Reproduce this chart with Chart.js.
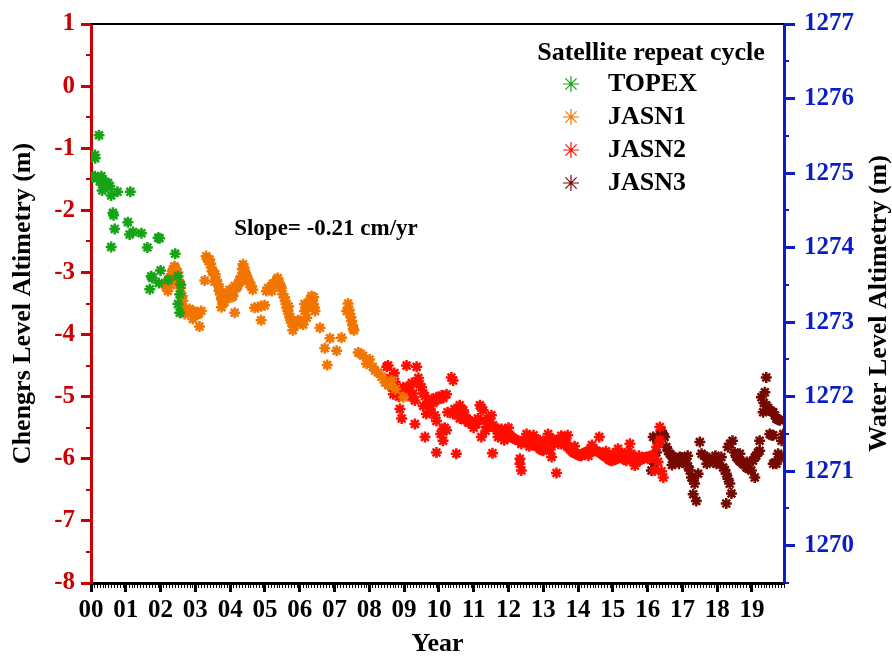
<!DOCTYPE html>
<html>
<head>
<meta charset="utf-8">
<script src="https://cdn.jsdelivr.net/npm/chart.js@4.4.1/dist/chart.umd.min.js"></script>
<style>
  html, body { margin: 0; padding: 0; background: #fff; }
  canvas { display: block; }
</style>
</head>
<body>
<canvas id="myChart" width="892" height="657"></canvas>
<script>
// years after 2000, level in m (left axis)
var topexYear = [0.23, 0.11, 0.12, 0.05, 0.11, 0.20, 0.30, 0.25, 0.34, 0.42, 0.49, 0.54, 0.32, 0.47, 0.58, 0.76, 1.13, 0.63, 0.65, 0.68,
  1.06, 1.11, 1.21, 1.45, 0.58, 1.62, 1.93, 1.97, 2.42, 1.73, 1.76, 2.00, 1.69, 1.95, 2.50, 2.55, 2.50, 2.55, 2.58, 2.22];
var topexLevel = [-0.79, -1.11, -1.16, -1.47, -1.45, -1.47, -1.45, -1.53, -1.59, -1.55, -1.56, -1.61, -1.68, -1.62, -1.76, -1.70, -1.70, -2.04, -2.08, -2.30,
  -2.19, -2.39, -2.35, -2.37, -2.59, -2.60, -2.44, -2.45, -2.70, -3.06, -3.09, -2.97, -3.27, -3.17, -3.06, -3.35, -3.51, -3.65, -3.20, -3.12];

var jasn1Year = [2.12, 2.16, 2.18, 2.21, 2.21, 2.26, 2.31, 2.34, 2.36, 2.40, 2.42, 2.45, 2.48, 2.52, 2.55, 2.58, 2.59, 2.62, 2.64, 2.59,
  2.66, 2.69, 2.76, 2.83, 2.88, 2.93, 2.99, 3.05, 3.10, 3.17, 2.93, 3.12, 3.27, 3.31, 3.34, 3.38, 3.41, 3.44, 3.46, 3.48,
  3.52, 3.57, 3.61, 3.65, 3.70, 3.72, 3.75, 3.79, 3.84, 3.75, 3.88, 3.93, 3.99, 4.04, 4.08, 4.13, 4.13, 4.18, 4.22, 4.27,
  4.32, 4.35, 4.37, 4.40, 4.42, 4.45, 4.47, 4.52, 4.56, 4.61, 4.65, 4.70, 4.80, 4.89, 4.99, 4.89, 5.04, 5.09, 5.13, 5.18,
  5.23, 5.28, 5.33, 5.37, 5.42, 5.47, 5.51, 5.56, 5.58, 5.61, 5.63, 5.66, 5.69, 5.71, 5.74, 5.76, 5.80, 5.85, 5.90, 5.95,
  6.00, 6.05, 6.10, 6.14, 6.14, 6.19, 6.20, 6.24, 6.29, 6.32, 6.34, 6.37, 6.39, 6.42, 6.44, 6.58, 6.72, 6.79, 6.87, 7.06,
  7.20, 7.35, 7.39, 7.42, 7.44, 7.47, 7.49, 7.52, 7.54, 7.56, 7.68, 7.75, 7.82, 7.92, 8.01, 8.10, 8.16, 8.25, 8.35, 8.45,
  8.55, 8.64, 8.75, 8.98, 2.30, 2.50, 3.55, 3.68, 3.98, 4.10, 4.28, 4.50, 5.20, 5.45, 5.68, 6.27, 6.40];
var jasn1Level = [-3.19, -3.22, -3.25, -3.30, -3.14, -3.10, -3.03, -2.98, -2.95, -2.90, -2.93, -3.03, -3.06, -3.12, -3.18, -3.25, -3.41, -3.38, -3.46, -3.53,
  -3.58, -3.67, -3.62, -3.59, -3.63, -3.62, -3.64, -3.68, -3.66, -3.62, -3.75, -3.87, -3.13, -2.74, -2.78, -2.82, -2.79, -2.86, -2.92, -2.98,
  -3.00, -3.03, -3.12, -3.19, -3.27, -3.35, -3.43, -3.45, -3.48, -3.56, -3.38, -3.34, -3.35, -3.40, -3.38, -3.65, -3.22, -3.25, -3.22, -3.12,
  -3.06, -2.95, -2.87, -2.92, -2.99, -3.02, -3.06, -3.12, -3.19, -3.22, -3.28, -3.57, -3.56, -3.54, -3.53, -3.77, -3.30, -3.25, -3.28, -3.22,
  -3.18, -3.19, -3.12, -3.09, -3.17, -3.25, -3.35, -3.40, -3.46, -3.51, -3.57, -3.62, -3.67, -3.72, -3.76, -3.81, -3.93, -3.86, -3.80, -3.77,
  -3.78, -3.81, -3.84, -3.62, -3.51, -3.54, -3.73, -3.57, -3.47, -3.42, -3.38, -3.45, -3.51, -3.57, -3.62, -3.89, -4.22, -4.49, -4.06, -4.26,
  -4.05, -3.62, -3.50, -3.60, -3.67, -3.72, -3.78, -3.85, -3.91, -3.93, -4.29, -4.31, -4.34, -4.47, -4.40, -4.52, -4.58, -4.61, -4.68, -4.77,
  -4.82, -4.74, -4.88, -5.01, -3.20, -3.00, -3.15, -3.30, -3.28, -3.30, -3.15, -3.10, -3.30, -3.22, -3.55, -3.52, -3.40];

var jasn2Year = [8.54, 8.50, 8.59, 8.64, 8.69, 8.74, 8.72, 8.80, 8.85, 8.88, 8.93, 8.98, 9.05, 9.07, 9.12, 9.17, 9.22, 9.26, 9.31, 9.36,
  9.41, 9.45, 9.50, 9.31, 9.55, 9.60, 9.64, 9.60, 9.69, 9.74, 9.79, 9.84, 9.89, 9.93, 9.98, 10.03, 10.08, 10.13, 10.22, 9.93,
  9.88, 10.12, 10.17, 10.22, 10.12, 10.05, 9.93, 10.36, 10.41, 10.41, 10.45, 10.50, 10.50, 10.55, 10.60, 10.65, 10.70, 10.74, 10.80, 10.85,
  10.89, 10.94, 10.98, 11.03, 11.08, 11.18, 11.22, 11.27, 11.32, 11.37, 11.22, 11.42, 11.46, 11.51, 11.56, 11.54, 11.61, 11.66, 11.70, 11.75,
  11.80, 11.85, 11.90, 11.95, 11.99, 12.04, 12.09, 12.14, 12.20, 12.28, 12.33, 12.37, 12.37, 12.33, 12.45, 12.52, 12.56, 12.61, 12.66, 12.71,
  12.76, 12.80, 12.85, 12.90, 12.95, 13.00, 13.05, 13.10, 13.14, 13.19, 13.24, 13.28, 13.33, 13.38, 13.43, 13.47, 13.52, 13.57, 13.62, 13.67,
  13.72, 13.76, 13.81, 13.86, 13.91, 13.96, 14.01, 14.05, 14.10, 14.15, 14.20, 14.24, 14.29, 14.34, 14.39, 14.44, 14.49, 14.53, 14.61, 14.63,
  14.67, 14.72, 14.77, 14.82, 14.87, 14.91, 14.96, 15.01, 15.06, 15.11, 15.15, 15.20, 15.25, 15.30, 15.34, 15.39, 15.44, 15.49, 15.53, 15.58,
  15.63, 15.68, 15.72, 15.78, 15.82, 15.87, 15.92, 15.97, 16.01, 16.06, 16.11, 16.16, 16.26, 16.35, 16.35, 16.45, 16.20, 16.40, 16.30,
  9.20, 9.55, 9.75, 10.25, 10.60, 10.75, 11.00, 11.12, 11.35, 11.70, 11.88, 12.00, 12.60, 12.72, 12.90, 13.20, 13.60, 13.70, 13.90, 14.30,
  14.40, 14.80, 15.00, 15.35, 15.60, 15.75];
var jasn2Level = [-4.50, -4.52, -4.70, -4.85, -4.96, -4.76, -4.62, -4.90, -5.00, -5.20, -5.35, -4.85, -4.90, -4.50, -4.85, -4.82, -4.78, -4.95, -5.06, -4.52,
  -4.70, -4.80, -4.85, -5.44, -4.95, -4.99, -5.28, -5.65, -5.12, -5.08, -5.04, -5.10, -5.06, -5.01, -5.05, -5.01, -4.98, -5.02, -4.96, -5.39,
  -5.30, -5.52, -5.50, -5.54, -5.71, -5.60, -5.90, -4.69, -4.74, -5.28, -5.20, -5.22, -5.92, -5.30, -5.14, -5.20, -5.22, -5.38, -5.35, -5.42,
  -5.41, -5.40, -5.44, -5.42, -5.44, -5.14, -5.18, -5.22, -5.38, -5.49, -5.65, -5.40, -5.35, -5.30, -5.46, -5.91, -5.50, -5.54, -5.52, -5.55,
  -5.52, -5.58, -5.59, -5.60, -5.65, -5.62, -5.65, -5.67, -5.69, -5.71, -6.08, -5.76, -6.19, -6.00, -5.70, -5.60, -5.64, -5.68, -5.72, -5.74,
  -5.76, -5.79, -5.81, -5.84, -5.86, -5.87, -5.82, -5.70, -5.60, -5.66, -5.97, -5.75, -5.70, -6.23, -5.76, -5.68, -5.63, -5.66, -5.70, -5.76,
  -5.81, -5.84, -5.87, -5.90, -5.91, -5.92, -5.94, -5.95, -5.95, -5.92, -5.90, -5.89, -5.88, -5.87, -5.87, -5.86, -5.87, -5.87, -5.65, -5.90,
  -5.92, -5.94, -5.96, -5.97, -6.00, -6.02, -6.03, -6.02, -6.01, -6.00, -5.84, -5.92, -5.95, -5.98, -6.01, -6.03, -5.90, -5.76, -5.92, -6.00,
  -6.11, -6.06, -6.03, -6.00, -6.01, -6.00, -5.98, -5.97, -6.00, -5.96, -5.95, -5.95, -5.81, -5.49, -5.70, -6.30, -6.19, -6.20, -6.05,
  -5.00, -5.15, -5.20, -5.25, -5.35, -5.30, -5.50, -5.35, -5.55, -5.65, -5.70, -5.50, -5.80, -5.62, -5.70, -5.85, -5.78, -5.62, -5.80, -5.95,
  -5.78, -5.88, -5.92, -5.92, -6.02, -5.95];

var jasn3Year = [16.11, 16.16, 16.20, 16.25, 16.30, 16.35, 16.40, 16.45, 16.49, 16.54, 16.59, 16.64, 16.69, 16.73, 16.78, 16.83, 16.88, 16.92, 16.97, 17.02,
  17.06, 17.11, 17.16, 17.21, 17.26, 17.31, 17.35, 17.31, 17.40, 17.45, 17.50, 17.55, 17.62, 17.69, 17.76, 17.83, 17.90, 17.98, 18.05, 18.12,
  18.17, 18.22, 18.26, 18.26, 18.31, 18.36, 18.41, 18.31, 18.37, 18.44, 18.50, 18.55, 18.60, 18.64, 18.69, 18.74, 18.79, 18.84, 18.90, 18.98,
  19.08, 19.03, 19.08, 19.12, 19.17, 19.22, 19.22, 19.27, 19.32, 19.34, 19.37, 19.41, 19.41, 19.46, 19.51, 19.56, 19.61, 19.66, 19.70, 19.75,
  19.80, 19.51, 19.56, 19.61, 19.61, 19.66, 19.70, 19.75, 19.85, 19.85, 19.90, 16.70, 16.90, 17.15, 17.70, 17.95, 18.65, 18.85];
var jasn3Level = [-6.19, -5.65, -6.08, -5.90, -5.75, -5.60, -5.55, -5.62, -5.65, -5.81, -5.88, -5.92, -5.95, -5.97, -6.00, -6.03, -6.00, -5.97, -5.98, -6.00,
  -6.04, -6.08, -6.12, -6.19, -6.30, -6.35, -6.40, -6.57, -6.68, -6.24, -5.73, -5.92, -5.95, -5.97, -6.00, -6.03, -6.05, -6.08, -6.02, -5.97,
  -6.14, -6.18, -6.24, -6.72, -6.32, -6.40, -6.56, -5.81, -5.76, -5.71, -5.90, -5.97, -6.00, -6.03, -6.05, -6.08, -6.10, -6.14, -6.16, -6.19,
  -6.30, -6.03, -5.98, -5.95, -5.90, -5.87, -5.71, -5.01, -5.25, -5.10, -4.93, -4.69, -5.14, -5.18, -5.22, -5.24, -5.25, -5.30, -5.35, -5.37,
  -5.38, -5.60, -5.62, -5.62, -6.08, -6.06, -6.08, -5.92, -5.97, -5.71, -5.60, -6.10, -6.08, -5.95, -6.08, -5.95, -5.92, -6.05];

var seriesNames = ["TOPEX", "JASN1", "JASN2", "JASN3"];
var seriesColors = ["#16a316", "#f27500", "#ff0d00", "#750800"];
var slopeText = "Slope= -0.21 cm/yr";

function pts(xs, ys) {
  return xs.map(function (x, i) { return { x: x, y: ys[i] }; });
}

var serif = "'Liberation Serif', 'Times New Roman', serif";
var red = "#cc0000";
var blue = "#0a1ec8";

var extras = {
  id: 'extras',
  afterDraw: function (chart) {
    var c = chart.ctx, a = chart.chartArea;
    var sx = chart.scales.x, sy = chart.scales.y, sy2 = chart.scales.y2;
    c.save();
    // top frame line
    c.strokeStyle = "#000"; c.lineWidth = 2;
    c.beginPath(); c.moveTo(a.left, a.top); c.lineTo(a.right, a.top); c.stroke();
    // minor ticks
    c.lineWidth = 2; c.strokeStyle = red;
    for (var v = -7.5; v < 1; v += 1) {
      var py = Math.round(sy.getPixelForValue(v));
      c.beginPath(); c.moveTo(a.left - 5, py); c.lineTo(a.left, py); c.stroke();
    }
    c.strokeStyle = blue;
    for (var w = 1269.5; w < 1277; w += 1) {
      var py2 = Math.round(sy2.getPixelForValue(w));
      c.beginPath(); c.moveTo(a.right, py2); c.lineTo(a.right + 5, py2); c.stroke();
    }
    c.strokeStyle = "#000"; c.lineWidth = 1;
    for (var yr = 0; yr < 20; yr++) {
      for (var m = 1; m < 12; m++) {
        var t = yr + m / 12;
        if (t > sx.max) break;
        var px = Math.round(sx.getPixelForValue(t)) + 0.5;
        c.beginPath(); c.moveTo(px, a.bottom); c.lineTo(px, a.bottom + 5); c.stroke();
      }
    }
    // right axis title
    c.fillStyle = "#000";
    c.font = "bold 26px " + serif;
    c.textAlign = "center"; c.textBaseline = "middle";
    c.translate(879, (a.top + a.bottom) / 2);
    c.rotate(-Math.PI / 2);
    c.fillText("Water Level Altimetry (m)", 0, 0);
    c.restore();

    c.save();
    // slope note
    c.fillStyle = "#000";
    c.font = "bold 23px " + serif;
    c.textAlign = "center"; c.textBaseline = "middle";
    c.fillText(slopeText, 326, 229);
    // legend
    c.font = "bold 26px " + serif;
    c.fillText("Satellite repeat cycle", 651, 53);
    c.textAlign = "left";
    for (var i = 0; i < seriesNames.length; i++) {
      var ly = 84 + i * 33;
      c.fillText(seriesNames[i], 608, ly);
      c.strokeStyle = seriesColors[i]; c.lineWidth = 1.2;
      var r = 8, cx = 571;
      c.beginPath();
      c.moveTo(cx - r, ly); c.lineTo(cx + r, ly);
      c.moveTo(cx, ly - r); c.lineTo(cx, ly + r);
      c.moveTo(cx - r * 0.7, ly - r * 0.7); c.lineTo(cx + r * 0.7, ly + r * 0.7);
      c.moveTo(cx - r * 0.7, ly + r * 0.7); c.lineTo(cx + r * 0.7, ly - r * 0.7);
      c.stroke();
    }
    c.restore();
  }
};

function ds(label, xs, ys, color) {
  return {
    label: label,
    data: pts(xs, ys),
    pointStyle: 'star',
    radius: 5.5,
    borderWidth: 2.5,
    borderColor: color,
    backgroundColor: color,
    yAxisID: 'y'
  };
}

var ctx = document.getElementById("myChart");
var myChart = new Chart(ctx, {
  type: 'scatter',
  data: {
    datasets: [
      ds(seriesNames[0], topexYear, topexLevel, seriesColors[0]),
      ds(seriesNames[1], jasn1Year, jasn1Level, seriesColors[1]),
      ds(seriesNames[2], jasn2Year, jasn2Level, seriesColors[2]),
      ds(seriesNames[3], jasn3Year, jasn3Level, seriesColors[3])
    ]
  },
  options: {
    responsive: false,
    animation: false,
    layout: { padding: { top: 22, left: 0, right: 0, bottom: 0 } },
    plugins: { legend: { display: false }, tooltip: { enabled: false } },
    scales: {
      x: {
        type: 'linear', position: 'bottom', min: 0, max: 19.92,
        ticks: {
          stepSize: 1, includeBounds: false, autoSkip: false, maxRotation: 0, padding: 4,
          color: "#000", font: { family: serif, weight: 'bold', size: 25 },
          callback: function (v) { return String(Math.round(v)).padStart(2, '0'); }
        },
        grid: { drawOnChartArea: false, tickLength: 9, tickWidth: 3, tickColor: "#000" },
        border: { color: "#000", width: 3 },
        title: { display: true, text: 'Year', color: "#000", font: { family: serif, weight: 'bold', size: 26, lineHeight: 1 }, padding: { top: 0, bottom: 0 } },
        afterFit: function (s) { s.height = 74; }
      },
      y: {
        position: 'left', min: -8, max: 1,
        ticks: { stepSize: 1, includeBounds: false, padding: 6, color: red, font: { family: serif, weight: 'bold', size: 25 } },
        grid: { drawOnChartArea: false, tickLength: 10, tickWidth: 3, tickColor: red },
        border: { color: red, width: 3 },
        title: { display: true, text: 'Chengrs Level Altimetry (m)', color: "#000", font: { family: serif, weight: 'bold', size: 26, lineHeight: 1 }, padding: { top: 10, bottom: 0 } },
        afterFit: function (s) { s.width = 91; }
      },
      y2: {
        position: 'right', min: 1269.5, max: 1277,
        ticks: {
          stepSize: 1, includeBounds: false, padding: 9, color: blue, font: { family: serif, weight: 'bold', size: 25 },
          callback: function (v) { return String(Math.round(v)); }
        },
        grid: { drawOnChartArea: false, tickLength: 11, tickWidth: 3, tickColor: blue },
        border: { color: blue, width: 3 },
        afterFit: function (s) { s.width = 108; }
      }
    }
  },
  plugins: [extras]
});
</script>
</body>
</html>
